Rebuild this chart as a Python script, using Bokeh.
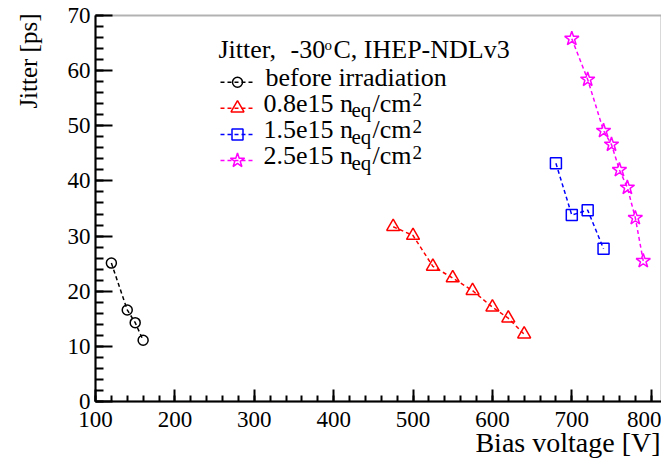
import math
from bokeh.plotting import figure
from bokeh.models import Range1d, SingleIntervalTicker, BoxAnnotation
from bokeh.core.properties import value
from bokeh.embed import file_html
from bokeh.resources import INLINE

# ---------------- data ----------------
bias_before = [120, 140, 150, 160]
jitter_before = [25.1, 16.6, 14.3, 11.1]

bias_08 = [475, 500, 525, 550, 575, 600, 620, 640]
jitter_08 = [31.7, 30.1, 24.5, 22.4, 20.1, 17.1, 15.1, 12.2]

bias_15 = [680, 700, 720, 740]
jitter_15 = [43.2, 33.8, 34.7, 27.7]

bias_25 = [700, 720, 740, 750, 760, 770, 780, 790]
jitter_25 = [65.8, 58.4, 49.1, 46.6, 42.0, 38.8, 33.3, 25.5]

legend_header = ["Jitter,", "-30", "o", "C, IHEP-NDLv3"]
legend_fluence = ["before irradiation", "0.8e15", "1.5e15", "2.5e15"]

x_title = "Bias voltage [V]"
y_title = "Jitter [ps]"

X0, X1 = 100, 813
Y0, Y1 = 0, 70

FONT = "Liberation Serif"

# Pixel geometry of the drawn frame (layout only)
FL, FR, FT, FB = 95, 661, 15, 401
W, H = 661, 458
TSHIFT = 10   # vertical correction for text anchors


def px_x(px):
    return X0 + (px - FL) * (X1 - X0) / (FR - FL)


def px_y(py):
    return Y0 + (FB - py) * (Y1 - Y0) / (FB - FT)


p = figure(width=W, height=H,
           x_range=Range1d(px_x(0), px_x(W)),
           y_range=Range1d(px_y(H), px_y(0)),
           output_backend="svg", toolbar_location=None,
           min_border=0)
p.min_border_left = p.min_border_right = p.min_border_top = p.min_border_bottom = 0
p.background_fill_color = "white"
p.border_fill_color = "white"
p.grid.visible = False
p.outline_line_color = None

# frame box
p.add_layout(BoxAnnotation(left=X0, right=X1, bottom=Y0, top=Y1,
                           fill_alpha=0, line_color="black", line_width=2, level="underlay"))

xa = p.xaxis[0]
ya = p.yaxis[0]
xa.fixed_location = Y0
ya.fixed_location = X0
xa.bounds = (X0, X1)
ya.bounds = (Y0, Y1)
xa.ticker = SingleIntervalTicker(interval=100, num_minor_ticks=5)
ya.ticker = SingleIntervalTicker(interval=10, num_minor_ticks=5)
for ax in (xa, ya):
    ax.axis_line_width = 2
    ax.axis_line_color = "black"
    ax.major_tick_line_width = 2
    ax.minor_tick_line_width = 2
    ax.major_tick_out = 0
    ax.minor_tick_out = 0
    ax.major_label_text_font = FONT
    ax.major_label_text_font_size = "23px"
    ax.major_label_text_color = "black"
xa.major_tick_in = 12
xa.minor_tick_in = 6
ya.major_tick_in = 17
ya.minor_tick_in = 8
xa.major_label_standoff = 10
ya.major_label_standoff = 5

series = [
    (bias_before, jitter_before, "black", "circle", 10),
    (bias_08, jitter_08, "red", "triangle", 13),
    (bias_15, jitter_15, "blue", "square", 11),
    (bias_25, jitter_25, "magenta", "star", 15),
]
for xs, ys, col, mk, sz in series:
    p.line(xs, ys, line_color=col, line_width=1.5, line_dash="4 3")
    p.scatter(xs, ys, marker=mk, size=sz, line_color=col, fill_color=None, line_width=1.5)

# ---------------- legend ----------------
tfont = value(FONT)


def put(px, py, txt, size, k=1.0):
    p.text([px_x(px)], [px_y(py - TSHIFT * k)], text=[txt], text_font=tfont,
           text_font_size=size, text_baseline="alphabetic", text_color="black")


hb = 59
put(218, hb, legend_header[0], "26px")
put(290, hb, legend_header[1], "26px")
put(324, hb - 9, legend_header[2], "15px", 0.6)
put(333, hb, legend_header[3], "26px")

row_base = [86.7, 112.7, 139.0, 165.0]
for i, (xs, ys, col, mk, sz) in enumerate(series):
    b = row_base[i]
    my = px_y(b - 5)
    p.line([px_x(220), px_x(253)], [my, my], line_color=col, line_width=1.5, line_dash="4 3")
    p.scatter([px_x(237)], [my], marker=mk, size=sz, line_color=col, fill_color=None, line_width=1.5)
    if i == 0:
        put(265, b, legend_fluence[0], "26px")
    else:
        put(263, b, legend_fluence[i] + " n", "26px")
        put(351, b + 5, "eq", "21px", 0.8)
        put(372, b, "/cm", "26px")
        put(412, b - 6, "2", "19px", 0.75)

# ---------------- axis titles ----------------
p.text([px_x(660)], [px_y(452 - TSHIFT)], text=[x_title], text_font=tfont,
       text_font_size="28px", text_align="right", text_baseline="alphabetic",
       text_color="black")
p.text([px_x(28)], [px_y(13)], text=[y_title], angle=math.pi / 2, text_font=tfont,
       text_font_size="25px", text_align="right", text_baseline="alphabetic",
       text_color="black")

open("out.html", "w").write(file_html(p, INLINE))
